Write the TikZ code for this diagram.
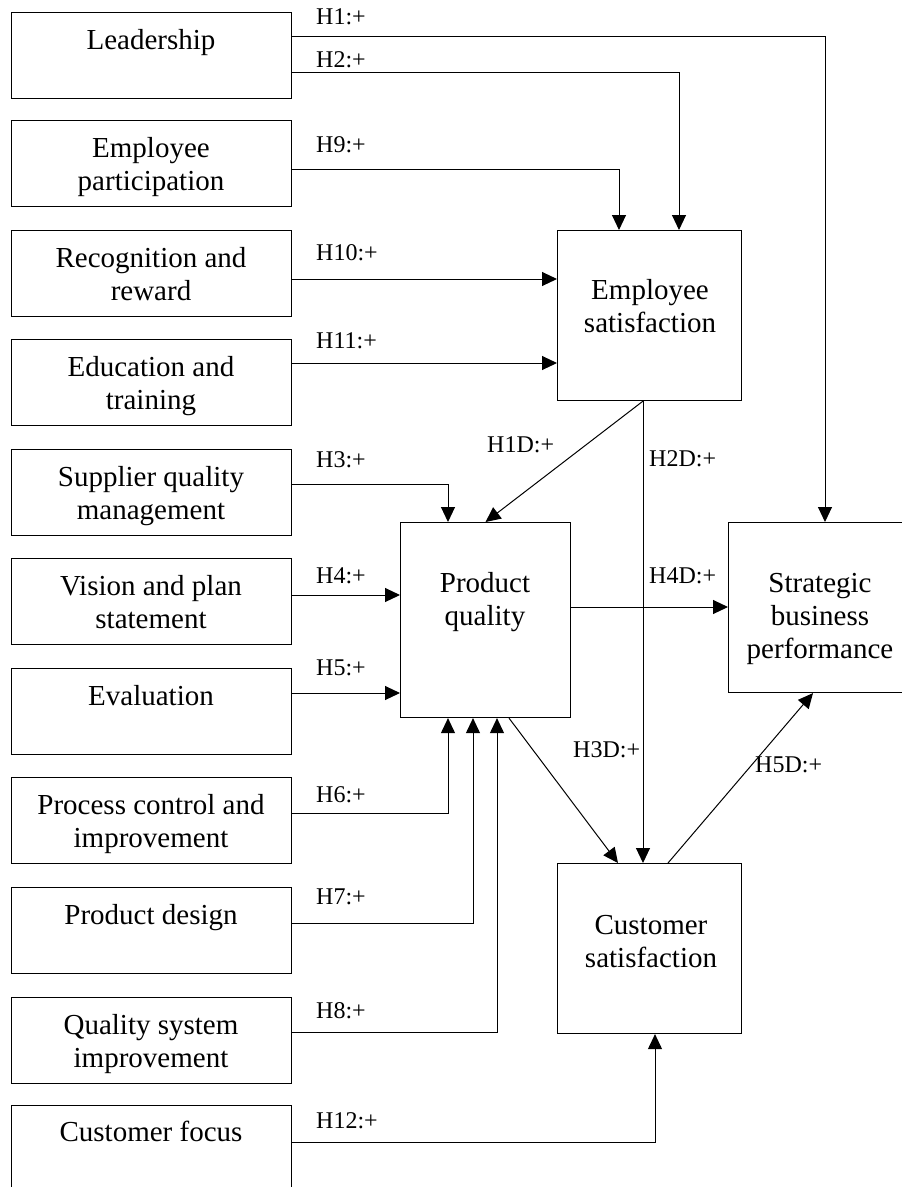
\documentclass[tikz,border=0pt]{standalone}
\usepackage{fontspec}
\setmainfont{Liberation Serif}
\usetikzlibrary{arrows.meta}
\newcommand{\mlines}[1]{\begin{tabular}[t]{@{}c@{}}#1\end{tabular}}
\begin{document}
\begin{tikzpicture}[x=1pt,y=-1pt,
  box/.style={draw, line width=1.1pt, inner sep=0pt, anchor=north west},
  lbox/.style={box, minimum width=280pt, minimum height=86pt},
  btext/.style={anchor=base, inner sep=0pt, font=\fontsize{29}{33}\selectfont},
  hlab/.style={anchor=base west, inner sep=0pt, font=\fontsize{24}{28}\selectfont},
  conn/.style={line width=1pt},
  arr/.style={conn, -{Triangle[length=15pt,width=14pt]}}]
\useasboundingbox (0,0) rectangle (902,1187);
\clip (0,0) rectangle (902,1187);

% left boxes
\node[lbox] (lead) at (11,12) {};
\node[lbox] (ep)   at (11,120) {};
\node[lbox] (rr)   at (11,230) {};
\node[lbox] (et)   at (11,339) {};
\node[lbox] (sqm)  at (11,449) {};
\node[lbox] (vps)  at (11,558) {};
\node[lbox] (ev)   at (11,668) {};
\node[lbox] (pci)  at (11,777) {};
\node[lbox] (pd)   at (11,887) {};
\node[lbox] (qsi)  at (11,997) {};
\node[lbox] (cf)   at (11,1105) {};

\node[btext] (t-lead) at (151,49) {Leadership};
\node[btext] (t-ep)   at (151,157) {\mlines{Employee\\participation}};
\node[btext] (t-rr)   at (151,267) {\mlines{Recognition and\\reward}};
\node[btext] (t-et)   at (151,376) {\mlines{Education and\\training}};
\node[btext] (t-sqm)  at (151,486) {\mlines{Supplier quality\\management}};
\node[btext] (t-vps)  at (151,595) {\mlines{Vision and plan\\statement}};
\node[btext] (t-ev)   at (151,705) {Evaluation};
\node[btext] (t-pci)  at (151,814) {\mlines{Process control and\\improvement}};
\node[btext] (t-pd)   at (151,924) {Product design};
\node[btext] (t-qsi)  at (151,1034) {\mlines{Quality system\\improvement}};
\node[btext] (t-cf)   at (151,1141) {Customer focus};

% right boxes
\node[box, minimum width=184pt, minimum height=170pt] (es) at (557,230) {};
\node[box, minimum width=170pt, minimum height=195pt] (pq) at (400,522) {};
\node[box, minimum width=180pt, minimum height=170pt] (sbp) at (728,522) {};
\node[box, minimum width=184pt, minimum height=170pt] (cs) at (557,863) {};

\node[btext] (t-es)  at (650,299) {\mlines{Employee\\satisfaction}};
\node[btext] (t-pq)  at (485,592) {\mlines{Product\\quality}};
\node[btext] (t-sbp) at (820,592) {\mlines{Strategic\\business\\performance}};
\node[btext] (t-cs)  at (651,934) {\mlines{Customer\\satisfaction}};

% connectors from left boxes
\draw[arr] (lead.east |- 0,36) -| (sbp.north -| 825,0);
\draw[arr] (lead.east |- 0,72) -| (es.north -| 679,0);
\draw[arr] (ep.east |- 0,169) -| (es.north -| 619,0);
\draw[arr] (rr.east |- 0,279) -- (es.west |- 0,279);
\draw[arr] (et.east |- 0,363) -- (es.west |- 0,363);
\draw[arr] (sqm.east |- 0,484) -| (pq.north -| 448,0);
\draw[arr] (vps.east |- 0,595) -- (pq.west |- 0,595);
\draw[arr] (ev.east |- 0,693) -- (pq.west |- 0,693);
\draw[arr] (pci.east |- 0,813) -| (pq.south -| 448,0);
\draw[arr] (pd.east |- 0,923) -| (pq.south -| 473,0);
\draw[arr] (qsi.east |- 0,1032) -| (pq.south -| 497,0);
\draw[arr] (cf.east |- 0,1142) -| (cs.south -| 655,0);

% connectors between right boxes
\draw[arr] (es.south -| 643,0) -- (pq.north);
\draw[arr] (es.south -| 643,0) -- (cs.north -| 643,0);
\draw[arr] (pq.east |- 0,607) -- (sbp.west |- 0,607);
\draw[arr] (pq.south -| 509,0) -- (cs.north -| 618,0);
\draw[arr] (cs.north -| 668,0) -- (sbp.south -| 813,0);

% labels
\node[hlab] (l1)  at (316,24) {H1:+};
\node[hlab] (l2)  at (316,67) {H2:+};
\node[hlab] (l9)  at (316,152) {H9:+};
\node[hlab] (l10) at (316,260) {H10:+};
\node[hlab] (l11) at (316,348) {H11:+};
\node[hlab] (l3)  at (316,467) {H3:+};
\node[hlab] (l4)  at (316,583) {H4:+};
\node[hlab] (l5)  at (316,675) {H5:+};
\node[hlab] (l6)  at (316,802) {H6:+};
\node[hlab] (l7)  at (316,904) {H7:+};
\node[hlab] (l8)  at (316,1018) {H8:+};
\node[hlab] (l12) at (316,1128) {H12:+};
\node[hlab] (l1d) at (487,452) {H1D:+};
\node[hlab] (l2d) at (649,466) {H2D:+};
\node[hlab] (l4d) at (649,583) {H4D:+};
\node[hlab] (l3d) at (573,757) {H3D:+};
\node[hlab] (l5d) at (755,772) {H5D:+};
\end{tikzpicture}
\end{document}
